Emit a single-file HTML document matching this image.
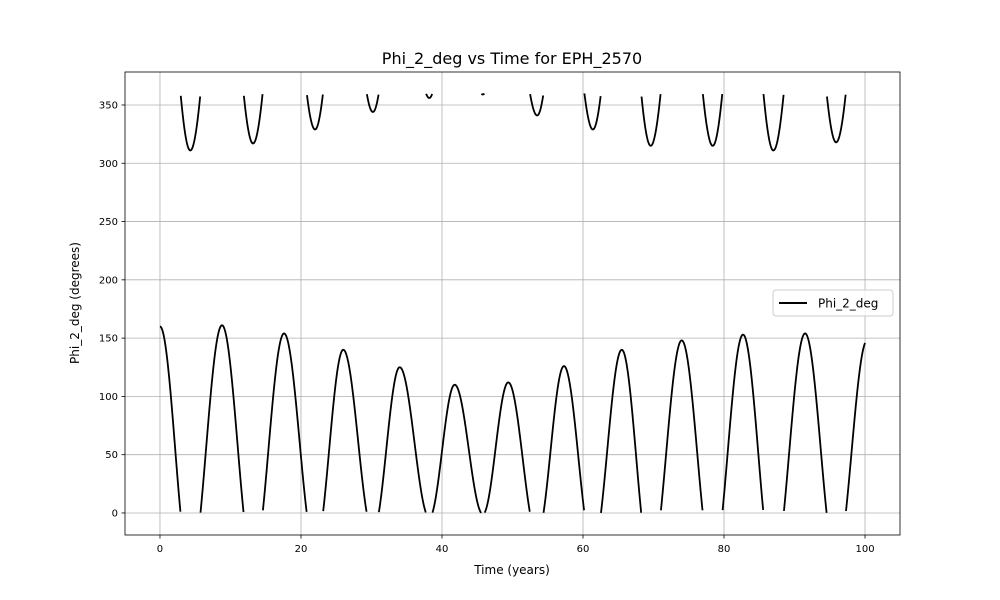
<!DOCTYPE html>
<html><head><meta charset="utf-8"><style>
body{margin:0;background:#fff}
svg{display:block;font-family:"DejaVu Sans","Liberation Sans",sans-serif}
</style></head><body>
<svg id="chart" width="1000" height="600">
<rect width="1000" height="600" fill="#fff"/>
<g id="grid"></g><g id="series"></g><g id="axes"></g>
<text x="512" y="64" text-anchor="middle" font-size="16">Phi_2_deg vs Time for EPH_2570</text>
<text x="512" y="574" text-anchor="middle" font-size="12">Time (years)</text>
<text transform="translate(79,303) rotate(-90)" text-anchor="middle" font-size="12">Phi_2_deg (degrees)</text>
<g>
<rect x="773" y="290" width="120" height="26" rx="3" fill="#fff" fill-opacity="0.8" stroke="#ccc"/>
<line x1="779" y1="303" x2="807" y2="303" stroke="#000" stroke-width="2"/>
<text x="818" y="307.5" font-size="12">Phi_2_deg</text>
</g>
</svg>
<script>
const xTicks=[0,20,40,60,80,100];
const yTicks=[0,50,100,150,200,250,300,350];
const extremaT=[0,4.3,8.8,13.2,17.6,22.0,26.0,30.2,34.0,38.2,41.8,45.8,49.4,53.5,57.3,61.4,65.5,69.6,74.0,78.4,82.7,87.0,91.5,95.9,100.3];
const extremaV=[160,-49,161,-43,154,-31,140,-16,125,-4,110,-1,112,-19,126,-31,140,-45,148,-45,153,-49,154,-42,148];
const L=125,R=900,T=72,B=535,xmin=-4.96,xmax=104.96,ymin=-18.9,ymax=378.3;
const xs=t=>L+(t-xmin)/(xmax-xmin)*(R-L);
const ys=v=>B-(v-ymin)/(ymax-ymin)*(B-T);
const NS='http://www.w3.org/2000/svg';
function mk(tag,attrs,parent){const e=document.createElementNS(NS,tag);for(const k in attrs)e.setAttribute(k,attrs[k]);parent.appendChild(e);return e;}
const grid=document.getElementById('grid'),axes=document.getElementById('axes'),series=document.getElementById('series');
xTicks.forEach(t=>{
 const g=mk('line',{x1:xs(t),x2:xs(t),y1:T,y2:B,stroke:'#b0b0b0','stroke-width':0.8},grid);
 
 
 mk('line',{x1:xs(t),x2:xs(t),y1:B,y2:B+3.5,stroke:'#000','stroke-width':0.8},axes);
 const tx=mk('text',{x:xs(t),y:B+17,'text-anchor':'middle','font-size':10},axes);tx.textContent=t;
 
 
});
yTicks.forEach(v=>{
 const g=mk('line',{x1:L,x2:R,y1:ys(v),y2:ys(v),stroke:'#b0b0b0','stroke-width':0.8},grid);
 
 
 mk('line',{x1:L-3.5,x2:L,y1:ys(v),y2:ys(v),stroke:'#000','stroke-width':0.8},axes);
 const tx=mk('text',{x:L-7,y:ys(v)+3.5,'text-anchor':'end','font-size':10},axes);tx.textContent=v;
 
 
});
const fr=mk('rect',{x:L,y:T,width:R-L,height:B-T,fill:'none',stroke:'#000','stroke-width':0.8},axes);


function val(t){
 for(let i=0;i<extremaT.length-1;i++){
  if(t<=extremaT[i+1]){const a=extremaT[i],b=extremaT[i+1],u=(t-a)/(b-a);const w=(1-Math.cos(Math.PI*u))/2;return extremaV[i]+(extremaV[i+1]-extremaV[i])*w;}
 }
 return extremaV[extremaV.length-1];
}
let d='',prev=null;
for(let t=0;t<=100.0001;t+=0.05){
 let v=((val(t)%360)+360)%360;
 if(prev===null||Math.abs(v-prev)>180)d+='M';else d+='L';
 d+=xs(t).toFixed(2)+','+ys(v).toFixed(2)+' ';
 prev=v;
}
const p=mk('path',{d:d,fill:'none',stroke:'#000','stroke-width':1.8},series);


</script>
</body></html>
